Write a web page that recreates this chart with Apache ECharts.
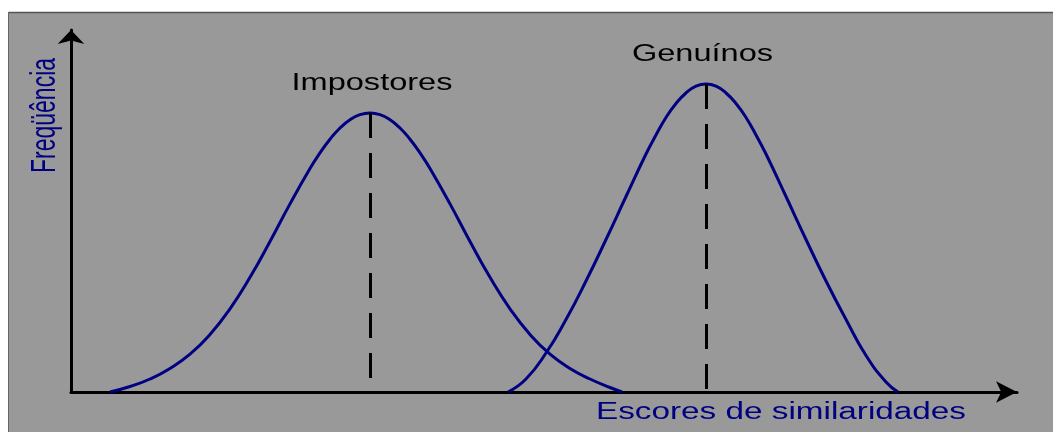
<!DOCTYPE html>
<html>
<head>
<meta charset="utf-8">
<title>Impostores x Genuínos</title>
<script src="https://cdn.jsdelivr.net/npm/echarts@6/dist/echarts.min.js"></script>
<style>
    html, body { margin: 0; padding: 0; background: #fff; }
    #main { width: 1053px; height: 432px; }
</style>
</head>
<body>
<div id="main"></div>
<script>
// curva dos impostores (x = escore, y = frequência)
var impX = [39, 59, 79, 99, 119, 139, 159, 179, 199, 219, 239, 249, 259, 269, 279, 289, 299,
            309, 319, 329, 339, 349, 359, 379, 399, 419, 439, 459, 479, 499, 519, 539, 551];
var impY = [0, 5.5, 13, 23.6, 37.8, 57.5, 83.2, 114.7, 150.5, 188.1, 223.5, 239.1, 252.8, 264, 272.2, 277.3, 279,
            277.3, 272.2, 264, 252.8, 239.1, 223.5, 188.1, 150.5, 114.7, 83.2, 57.5, 37.8, 23.6, 13, 4.5, 0];
// curva dos genuínos
var genX = [437, 455, 475, 495, 515, 535, 555, 575, 585, 595, 605, 615, 625, 635,
            645, 655, 665, 675, 685, 695, 715, 735, 755, 775, 795, 815, 827];
var genY = [0, 13, 39, 72.5, 111, 152.5, 195.5, 238, 257, 274.5, 288.5, 299, 305.8, 308,
            305.8, 299, 288.5, 274.5, 257, 238, 195.5, 152.5, 111, 72.5, 36.5, 10, 0];
// picos (linhas tracejadas)
var impPeak = [299, 279];
var genPeak = [635, 308];

(function () {
    "use strict";
    var navy = '#000080';
    var font = '23px "Liberation Sans", Arial, sans-serif';

    function pares(xs, ys) {
        var out = [];
        for (var i = 0; i < xs.length; i++) {
            out.push([xs[i], ys[i]]);
        }
        return out;
    }

    function tracejado(p) {
        return {
            silent: true,
            symbol: ['none', 'none'],
            label: {show: false},
            lineStyle: {color: '#000', width: 3, type: [25, 15]},
            emphasis: {disabled: true},
            data: [[{coord: [p[0], p[1]]}, {coord: [p[0], 0]}]]
        };
    }

    function texto(t, x, y, sx, cor, extra) {
        var el = {
            type: 'text', x: x, y: y, scaleX: sx, silent: true,
            style: {
                text: t, font: font, fill: cor,
                textAlign: 'center', textVerticalAlign: 'middle',
                align: 'center', verticalAlign: 'middle'
            }
        };
        if (extra) {
            for (var k in extra) { el[k] = extra[k]; }
        }
        return el;
    }

    var myChart = echarts.init(document.getElementById('main'));
    var option = {
        animation: false,
        backgroundColor: '#999999',
        grid: {left: 71, right: 36, top: 30, bottom: 40},
        xAxis: {
            type: 'value', min: 0, max: 946,
            axisLine: {
                show: true, onZero: false,
                symbol: ['none', 'arrow'], symbolSize: [16, 21],
                lineStyle: {color: '#000', width: 3}
            },
            axisTick: {show: false},
            axisLabel: {show: false},
            splitLine: {show: false}
        },
        yAxis: {
            type: 'value', min: 0, max: 362,
            axisLine: {
                show: true, onZero: false,
                symbol: ['none', 'arrow'], symbolSize: [20, 14],
                lineStyle: {color: '#000', width: 3}
            },
            axisTick: {show: false},
            axisLabel: {show: false},
            splitLine: {show: false}
        },
        series: [
            {
                name: 'Impostores', type: 'line', smooth: true, showSymbol: false,
                lineStyle: {color: navy, width: 3},
                data: pares(impX, impY),
                markLine: tracejado(impPeak)
            },
            {
                name: 'Genuínos', type: 'line', smooth: true, showSymbol: false,
                lineStyle: {color: navy, width: 3},
                data: pares(genX, genY),
                markLine: tracejado(genPeak)
            }
        ],
        graphic: [
            // margem branca e moldura
            {type: 'rect', shape: {x: 0, y: 0, width: 1053, height: 12}, style: {fill: '#fff'}, silent: true},
            {type: 'rect', shape: {x: 0, y: 0, width: 8, height: 432}, style: {fill: '#fff'}, silent: true},
            {type: 'line', shape: {x1: 8.5, y1: 12.5, x2: 1053, y2: 12.5}, style: {stroke: '#555', lineWidth: 1.5}, silent: true},
            {type: 'line', shape: {x1: 8.5, y1: 12.5, x2: 8.5, y2: 432}, style: {stroke: '#666', lineWidth: 1}, silent: true},
            texto('Impostores', 372, 83.5, 1.415, '#000'),
            texto('Genuínos', 702.5, 55, 1.414, '#000'),
            texto('Escores de similaridades', 781, 413, 1.447, navy),
            texto('Freqüência', 45, 115.5, 1, navy, {rotation: Math.PI / 2, scaleY: 1.5})
        ]
    };
    myChart.setOption(option);
})();
</script>
</body>
</html>
